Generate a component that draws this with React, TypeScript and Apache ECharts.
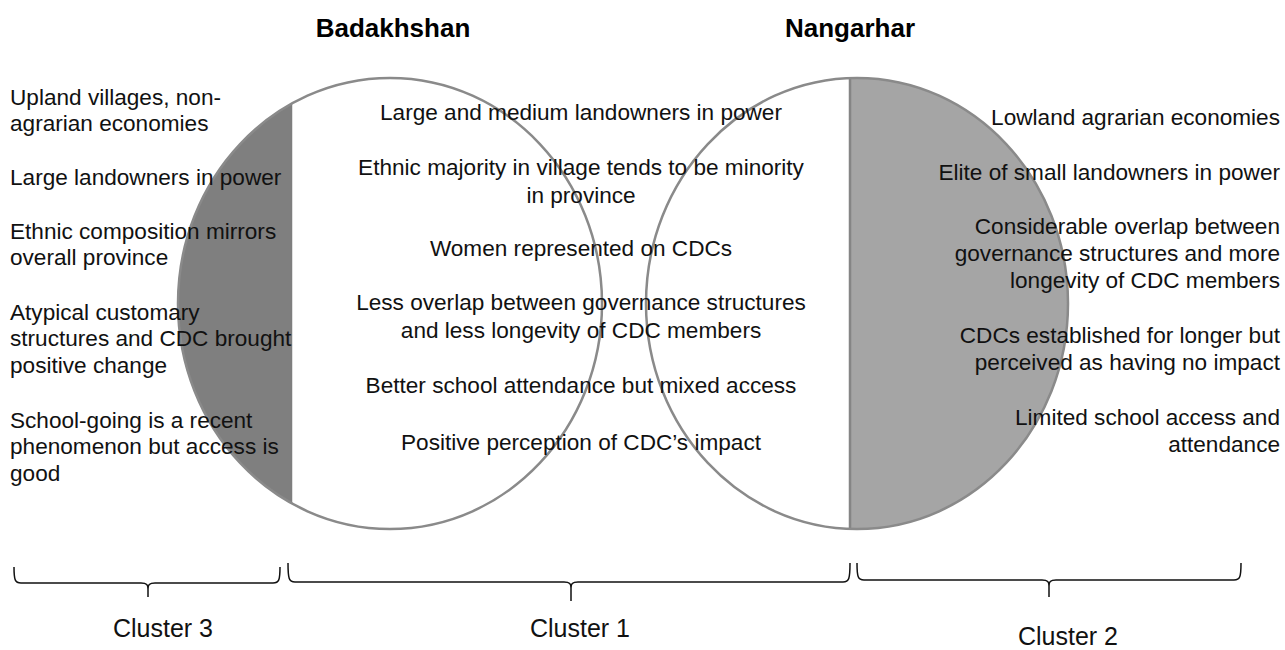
import React, { useEffect, useRef } from "react";
import * as echarts from "echarts";

// ---------- content ----------
const provinceTitles = ["Badakhshan", "Nangarhar"];

const cluster3Traits: string[][] = [
  ["Upland villages, non-", "agrarian economies"],
  ["Large landowners in power"],
  ["Ethnic composition mirrors", "overall province"],
  ["Atypical customary", "structures and CDC brought", "positive change"],
  ["School-going is a recent", "phenomenon but access is", "good"],
];

const cluster1Traits: string[][] = [
  ["Large and medium landowners in power"],
  ["Ethnic majority in village tends to be minority", "in province"],
  ["Women represented on CDCs"],
  ["Less overlap between governance structures", "and less longevity of CDC members"],
  ["Better school attendance but mixed access"],
  ["Positive perception of CDC\u2019s impact"],
];

const cluster2Traits: string[][] = [
  ["Lowland agrarian economies"],
  ["Elite of small landowners in power"],
  ["Considerable overlap between", "governance structures and more", "longevity of CDC members"],
  ["CDCs established for longer but", "perceived as having no impact"],
  ["Limited school access and", "attendance"],
];

const clusterLabels = ["Cluster 3", "Cluster 1", "Cluster 2"];

// ---------- layout ----------
const W = 1285;
const H = 650;
const FONT = '"Liberation Sans", Arial, sans-serif';
const BODY_SIZE = 22.6;

const leftEllipse = { cx: 390, cy: 303.5, rx: 212, ry: 225.5, divX: 292, fill: "#7f7f7f" };
const rightEllipse = { cx: 857, cy: 303.5, rx: 211, ry: 225.5, divX: 850, fill: "#a5a5a5" };

const titlePos = [
  { x: 393, y: 28 },
  { x: 850, y: 28 },
];

const leftCol = { x: 10, starts: [97, 177, 231, 312, 420], lh: 26.5 };
const midCol = { x: 581, starts: [112, 167, 248, 302, 385, 442], lh: 28.5 };
const rightCol = { x: 1280, starts: [117, 172, 226, 335, 417], lh: 27 };

const braces = [
  { x1: 14, x2: 280, tip: 148, top: 567, line: 583, tipY: 597 },
  { x1: 288, x2: 850, tip: 571, top: 563, line: 582, tipY: 601 },
  { x1: 857, x2: 1241, tip: 1049, top: 563, line: 580, tipY: 597 },
];
const clusterPos = [
  { x: 163, y: 628 },
  { x: 580, y: 628 },
  { x: 1068, y: 636 },
];

function segment(e: typeof leftEllipse, side: "left" | "right"): number[][] {
  const a = Math.acos((e.divX - e.cx) / e.rx);
  const t0 = side === "left" ? a : -a;
  const t1 = side === "left" ? 2 * Math.PI - a : a;
  const pts: number[][] = [];
  const n = 120;
  for (let i = 0; i <= n; i++) {
    const t = t0 + ((t1 - t0) * i) / n;
    pts.push([e.cx + e.rx * Math.cos(t), e.cy + e.ry * Math.sin(t)]);
  }
  return pts;
}

function bracePath(b: (typeof braces)[number]): string {
  const r = 7;
  return [
    `M${b.x1},${b.top}`,
    `C${b.x1},${b.line - 3} ${b.x1 + 1},${b.line} ${b.x1 + r},${b.line}`,
    `L${b.tip - r},${b.line}`,
    `C${b.tip - 1},${b.line} ${b.tip},${b.line + 2} ${b.tip},${b.line + 6}`,
    `L${b.tip},${b.tipY}`,
    `M${b.tip},${b.line + 6}`,
    `C${b.tip},${b.line + 2} ${b.tip + 1},${b.line} ${b.tip + r},${b.line}`,
    `L${b.x2 - r},${b.line}`,
    `C${b.x2 - 1},${b.line} ${b.x2},${b.line - 3} ${b.x2},${b.top}`,
  ].join(" ");
}

function textEl(text: string, x: number, y: number, align: string, size: number, weight = "normal", color = "#111") {
  return {
    type: "text",
    x,
    y,
    z: 10,
    style: {
      text,
      fill: color,
      fontSize: size,
      fontFamily: FONT,
      fontWeight: weight,
      textAlign: align,
      textVerticalAlign: "middle",
      align,
      verticalAlign: "middle",
    },
  };
}

function columnEls(items: string[][], col: { x: number; starts: number[]; lh: number }, align: string) {
  const els: any[] = [];
  items.forEach((lines, i) => {
    lines.forEach((ln, j) => {
      els.push(textEl(ln, col.x, col.starts[i] + j * col.lh, align, BODY_SIZE));
    });
  });
  return els;
}

export default function App() {
  const ref = useRef<HTMLDivElement>(null);

  useEffect(() => {
    if (!ref.current) return;
    braces.forEach((b, i) => {
      echarts.graphic.registerShape("brace" + i, echarts.graphic.extendPath(bracePath(b), {}));
    });
    const chart = echarts.init(ref.current, undefined, { renderer: "svg" });

    const elements: any[] = [];
    [leftEllipse, rightEllipse].forEach((e) => {
      elements.push({
        type: "ellipse",
        z: 1,
        shape: { cx: e.cx, cy: e.cy, rx: e.rx, ry: e.ry },
        style: { fill: "#ffffff", stroke: "none" },
      });
    });
    elements.push({
      type: "polygon",
      z: 2,
      shape: { points: segment(leftEllipse, "left") },
      style: { fill: leftEllipse.fill, stroke: leftEllipse.fill, lineWidth: 0.5 },
    });
    elements.push({
      type: "polygon",
      z: 2,
      shape: { points: segment(rightEllipse, "right") },
      style: { fill: rightEllipse.fill, stroke: rightEllipse.fill, lineWidth: 0.5 },
    });
    const dy = rightEllipse.ry * Math.sqrt(1 - Math.pow((rightEllipse.divX - rightEllipse.cx) / rightEllipse.rx, 2));
    elements.push({
      type: "line",
      z: 3,
      shape: { x1: rightEllipse.divX, y1: rightEllipse.cy - dy, x2: rightEllipse.divX, y2: rightEllipse.cy + dy },
      style: { stroke: "#858585", lineWidth: 2.5 },
    });
    [leftEllipse, rightEllipse].forEach((e) => {
      elements.push({
        type: "ellipse",
        z: 4,
        shape: { cx: e.cx, cy: e.cy, rx: e.rx, ry: e.ry },
        style: { fill: "none", stroke: "#8a8a8a", lineWidth: 2.5 },
      });
    });

    provinceTitles.forEach((t, i) => {
      elements.push(textEl(t, titlePos[i].x, titlePos[i].y, "center", 26, "bold", "#000"));
    });

    elements.push(...columnEls(cluster3Traits, leftCol, "left"));
    elements.push(...columnEls(cluster1Traits, midCol, "center"));
    elements.push(...columnEls(cluster2Traits, rightCol, "right"));

    braces.forEach((_, i) => {
      elements.push({
        type: "brace" + i,
        z: 5,
        style: { fill: "none", stroke: "#111", lineWidth: 1.5 },
      });
    });
    clusterLabels.forEach((c, i) => {
      elements.push(textEl(c, clusterPos[i].x, clusterPos[i].y, "center", 25, "normal", "#111"));
    });

    chart.setOption({
      animation: false,
      backgroundColor: "#ffffff",
      graphic: { elements },
    });

    return () => chart.dispose();
  }, []);

  return (
    <div
      ref={ref}
      style={{ position: "absolute", left: 0, top: 0, width: W, height: H, background: "#fff" }}
    />
  );
}
